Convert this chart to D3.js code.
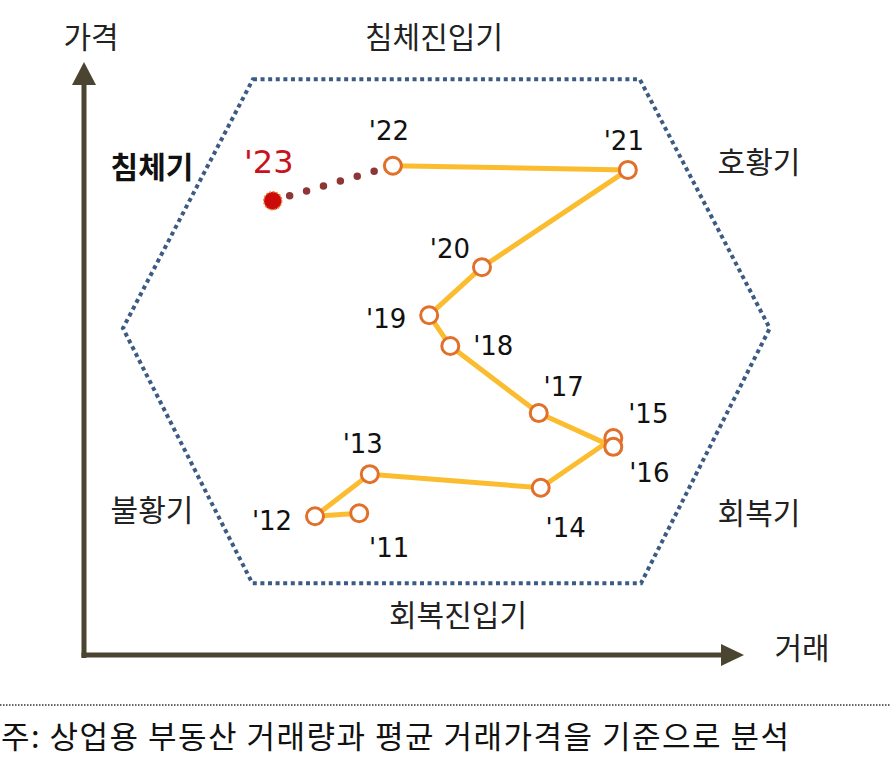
<!DOCTYPE html>
<html>
<head>
<meta charset="utf-8">
<script src="https://cdn.jsdelivr.net/npm/d3@7"></script>
<style>
  body { margin: 0; background: #fff; }
  svg { display: block; }
</style>
</head>
<body>
<div id="chart"></div>
<script>
// values (index units, 0-100 on both axes)
const years  = ["'11","'12","'13","'14","'15","'16","'17","'18","'19","'20","'21","'22"];
const volume = [41.7, 35.0, 43.3, 69.2, 80.2, 80.2, 68.9, 55.5, 52.3, 60.3, 82.4, 46.8];
const price  = [23.9, 23.4, 30.5, 28.2, 36.6, 35.1, 40.8, 52.1, 57.3, 65.4, 81.8, 82.5];

const lastYear = "'23";
const lastVolume = 28.6;
const lastPrice = 76.6;

// cycle hexagon corners
const hexVolume = [25.6, 84.2, 103.9, 84.4, 25.5, 5.9];
const hexPrice  = [97.1, 97.1, 55.1, 12.1, 12.1, 55.1];

const phaseNames = ["침체진입기", "침체기", "호황기", "불황기", "회복기", "회복진입기"];

const note = "주: 상업용 부동산 거래량과 평균 거래가격을 기준으로 분석";

// label placement (pixels from point)
const labelOff = {
  "'11":[30,44], "'12":[-43,14], "'13":[-7,-21], "'14":[25,49],
  "'15":[35,-15], "'16":[36,35], "'17":[25,-17], "'18":[43,9],
  "'19":[-43,13], "'20":[-32,-9], "'21":[-4,-20], "'22":[-4,-26]
};
const phasePos = [[434,37],[152,167],[759,162],[152,510],[759,513],[458,615]];

const W = 890, H = 763;
const svg = d3.select("#chart").append("svg").attr("width", W).attr("height", H);

let x = d3.scaleLinear().domain([0,100]).range([84,744]);
let y = d3.scaleLinear().domain([0,100]).range([655,62]);

const kfont = "'Noto Sans CJK KR', 'Noto Sans', sans-serif";
const axisCol = "#4a4431";

// hexagon
let hex = hexVolume.map((v,i) => [x(v), y(hexPrice[i])]);
svg.append("path")
   .attr("d", d3.line()(hex) + "Z")
   .attr("fill","none")
   .attr("stroke","#3b5a84")
   .attr("stroke-width",4)
   .attr("stroke-dasharray","4,3.6");

// axes
const x0 = x.range()[0], x1 = x.range()[1];
const y0 = y.range()[0], y1 = y.range()[1];
svg.append("line").attr("x1",x0).attr("y1",y0+3).attr("x2",x0).attr("y2",y1+20)
   .attr("stroke",axisCol).attr("stroke-width",5);
svg.append("path").attr("d",`M${x0},${y1} L${x0-12},${y1+23} L${x0+12},${y1+23} Z`).attr("fill",axisCol);
svg.append("line").attr("x1",x0-2.5).attr("y1",y0).attr("x2",x1-20).attr("y2",y0)
   .attr("stroke",axisCol).attr("stroke-width",5);
svg.append("path").attr("d",`M${x1},${y0} L${x1-23},${y0-11} L${x1-23},${y0+11} Z`).attr("fill",axisCol);

svg.append("text").attr("x",91).attr("y",37).attr("dy","0.36em")
   .attr("text-anchor","middle").style("font-family",kfont).style("font-size","30px")
   .attr("fill","#222").text("가격");
svg.append("text").attr("x",802).attr("y",648).attr("dy","0.36em")
   .attr("text-anchor","middle").style("font-family",kfont).style("font-size","30px")
   .attr("fill","#222").text("거래");

// phase names
svg.append("g").selectAll("text").data(phaseNames).enter().append("text")
   .attr("x",(d,i)=>phasePos[i][0]).attr("y",(d,i)=>phasePos[i][1]).attr("dy","0.36em")
   .attr("text-anchor","middle")
   .style("font-family",kfont).style("font-size","30px")
   .style("font-weight",d=> d=="침체기" ? "bold" : "normal")
   .attr("fill",d=> d=="침체기" ? "#111" : "#222")
   .text(d=>d);

// dotted path '22 -> '23
const iLast = years.length-1;
svg.append("line")
   .attr("x1",x(lastVolume)).attr("y1",y(lastPrice))
   .attr("x2",x(volume[iLast])).attr("y2",y(price[iLast]))
   .attr("stroke","#8e3636").attr("stroke-width",7.5)
   .attr("stroke-linecap","round").attr("stroke-dasharray","0,17.6");

// main path
let pts = years.map((d,i)=>({year:d, v:volume[i], p:price[i]}));
svg.append("path").datum(pts)
   .attr("d", d3.line().x(d=>x(d.v)).y(d=>y(d.p)))
   .attr("fill","none").attr("stroke","#fbbd2f").attr("stroke-width",5)
   .attr("stroke-linejoin","round");

svg.append("g").selectAll("circle").data(pts).enter().append("circle")
   .attr("cx",d=>x(d.v)).attr("cy",d=>y(d.p)).attr("r",8.5)
   .attr("fill","#fff").attr("stroke","#e0702a").attr("stroke-width",3);

svg.append("g").selectAll("text").data(pts).enter().append("text")
   .attr("x",d=>x(d.v)+labelOff[d.year][0]).attr("y",d=>y(d.p)+labelOff[d.year][1])
   .attr("text-anchor","middle")
   .style("font-family","'DejaVu Sans', sans-serif").style("font-size","26px")
   .attr("fill","#111").text(d=>d.year);

// latest year
svg.append("circle").attr("cx",x(lastVolume)).attr("cy",y(lastPrice)).attr("r",9)
   .attr("fill","#cc0a0a").attr("stroke","#e8803a").attr("stroke-width",1.5)
   .attr("stroke-dasharray","2,1.5");
svg.append("text").attr("x",x(lastVolume)-4).attr("y",y(lastPrice)-28)
   .attr("text-anchor","middle")
   .style("font-family","'DejaVu Sans', sans-serif").style("font-size","32px")
   .attr("fill","#c8121c").text(lastYear);

// note
svg.append("line").attr("x1",0).attr("x2",W).attr("y1",705).attr("y2",705)
   .attr("stroke","#333").attr("stroke-width",1.5).attr("stroke-dasharray","1.5,1.5");
svg.append("text").attr("x",1).attr("y",737).attr("dy","0.36em")
   .attr("textLength",788).attr("lengthAdjust","spacing")
   .style("font-family",kfont).style("font-size","31px")
   .attr("fill","#111").text(note);
</script>
</body>
</html>
